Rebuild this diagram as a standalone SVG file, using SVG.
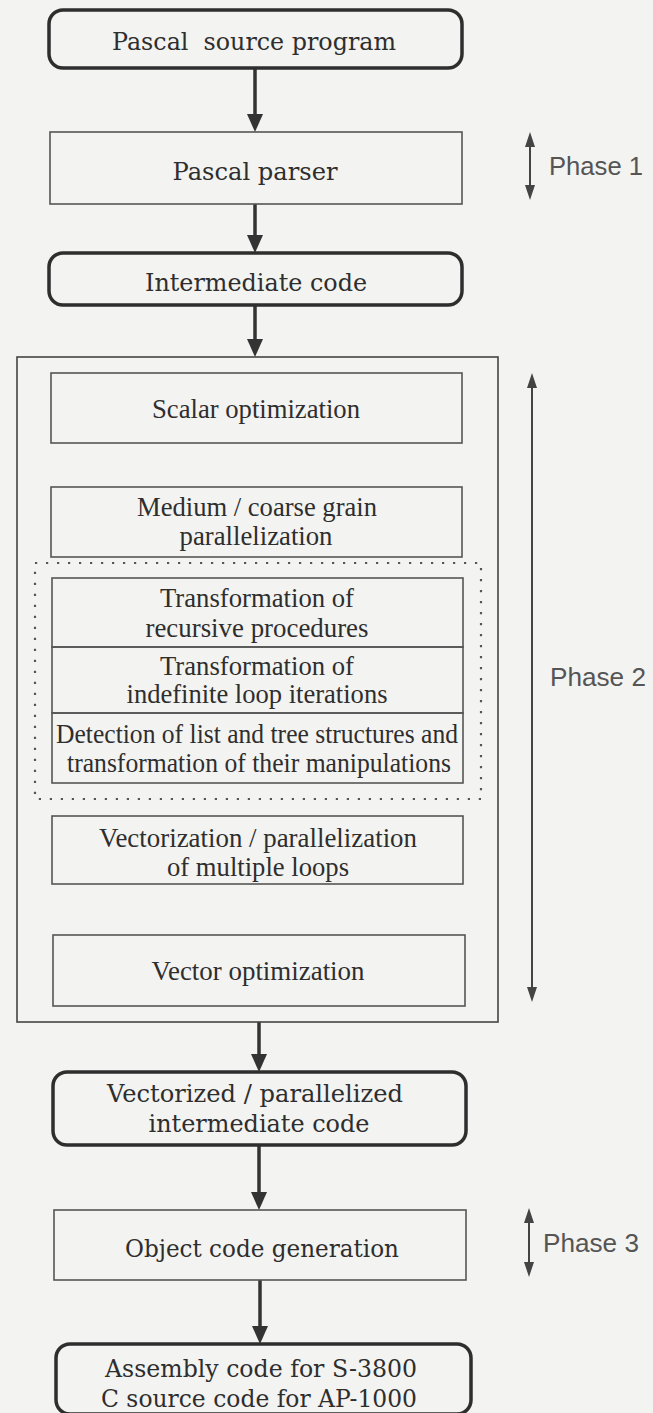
<svg xmlns="http://www.w3.org/2000/svg" width="653" height="1413" viewBox="0 0 653 1413">
  <style>
    .term { fill: none; stroke: #2e2e2e; stroke-width: 3.5; }
    .box { fill: none; stroke: #555; stroke-width: 1.6; }
    .frame { fill: none; stroke: #444; stroke-width: 1.6; }
    .dots { fill: none; stroke: #555; stroke-width: 2.2; stroke-dasharray: 2.2 8.8; }
    .flow { stroke: #333; stroke-width: 3.5; fill: none; }
    .span { stroke: #444; stroke-width: 2; fill: none; }
    .sch { font-family: "DejaVu Serif", "Liberation Serif", serif; font-size: 25px; fill: #2e2e2e; text-anchor: middle; }
    .tms { font-family: "Liberation Serif", "Times New Roman", serif; font-size: 28px; fill: #2e2e2e; text-anchor: middle; }
    .phase { font-family: "Liberation Sans", Arial, sans-serif; font-size: 25px; fill: #555; }
  </style>

  <rect x="0" y="0" width="653" height="1413" fill="#f3f3f1"/>

  <!-- flow connectors: shaft plus filled head -->
  <g id="connectors">
    <line class="flow" x1="255" y1="68" x2="255" y2="114"/>
    <path d="M247,114 L263,114 L255,132 Z" fill="#333"/>
    <line class="flow" x1="255" y1="204" x2="255" y2="235"/>
    <path d="M247,235 L263,235 L255,253 Z" fill="#333"/>
    <line class="flow" x1="255" y1="305" x2="255" y2="339"/>
    <path d="M247,339 L263,339 L255,357 Z" fill="#333"/>
    <line class="flow" x1="259" y1="1022" x2="259" y2="1054"/>
    <path d="M251,1054 L267,1054 L259,1072 Z" fill="#333"/>
    <line class="flow" x1="259" y1="1145" x2="259" y2="1192"/>
    <path d="M251,1192 L267,1192 L259,1210 Z" fill="#333"/>
    <line class="flow" x1="260" y1="1280" x2="260" y2="1326"/>
    <path d="M252,1326 L268,1326 L260,1344 Z" fill="#333"/>
  </g>

  <!-- phase spans: double-headed markers with labels -->
  <g id="phase1">
    <line class="span" x1="530" y1="144" x2="530" y2="188"/>
    <path d="M525,147 L535,147 L530,132 Z" fill="#444"/>
    <path d="M525,185 L535,185 L530,200 Z" fill="#444"/>
    <text class="phase" x="549" y="175" textLength="94" lengthAdjust="spacingAndGlyphs">Phase 1</text>
  </g>
  <g id="phase2">
    <line class="span" x1="532" y1="385" x2="532" y2="990"/>
    <path d="M527,388 L537,388 L532,373 Z" fill="#444"/>
    <path d="M527,987 L537,987 L532,1002 Z" fill="#444"/>
    <text class="phase" x="550" y="686" textLength="96" lengthAdjust="spacingAndGlyphs">Phase 2</text>
  </g>
  <g id="phase3">
    <line class="span" x1="529" y1="1220" x2="529" y2="1265"/>
    <path d="M524,1223 L534,1223 L529,1208 Z" fill="#444"/>
    <path d="M524,1262 L534,1262 L529,1277 Z" fill="#444"/>
    <text class="phase" x="543" y="1252" textLength="96" lengthAdjust="spacingAndGlyphs">Phase 3</text>
  </g>

  <!-- phase 1 -->
  <g id="source">
    <rect class="term" x="49" y="10" width="413" height="58" rx="14"/>
    <text class="sch" x="254" y="50" textLength="284" lengthAdjust="spacingAndGlyphs" xml:space="preserve">Pascal  source program</text>
  </g>
  <g id="parser">
    <rect class="box" x="50" y="132" width="412" height="72"/>
    <text class="sch" x="255" y="180" textLength="165" lengthAdjust="spacingAndGlyphs">Pascal parser</text>
  </g>
  <g id="intermediate">
    <rect class="term" x="49" y="253" width="413" height="52" rx="14"/>
    <text class="sch" x="256" y="291" textLength="222" lengthAdjust="spacingAndGlyphs">Intermediate code</text>
  </g>

  <!-- phase 2 optimizer -->
  <g id="optimizer">
    <rect class="frame" x="17" y="357" width="481" height="665"/>
  </g>
  <g id="scalar">
    <rect class="box" x="51" y="373" width="411" height="70"/>
    <text class="tms" x="256" y="418" textLength="208" lengthAdjust="spacingAndGlyphs">Scalar optimization</text>
  </g>
  <g id="coarse">
    <rect class="box" x="51" y="487" width="411" height="70"/>
    <text class="tms" x="257" y="516" textLength="240" lengthAdjust="spacingAndGlyphs">Medium / coarse grain</text>
    <text class="tms" x="256" y="545" textLength="153" lengthAdjust="spacingAndGlyphs">parallelization</text>
  </g>
  <g id="dynamic">
    <rect class="dots" x="35" y="563" width="446" height="236"/>
  </g>
  <g id="recursive">
    <rect class="box" x="52" y="578" width="411" height="69"/>
    <text class="tms" x="257" y="607" textLength="194" lengthAdjust="spacingAndGlyphs">Transformation of</text>
    <text class="tms" x="257" y="637" textLength="223" lengthAdjust="spacingAndGlyphs">recursive procedures</text>
  </g>
  <g id="indefinite">
    <rect class="box" x="52" y="647" width="411" height="66"/>
    <text class="tms" x="257" y="675" textLength="194" lengthAdjust="spacingAndGlyphs">Transformation of</text>
    <text class="tms" x="257" y="703" textLength="261" lengthAdjust="spacingAndGlyphs">indefinite loop iterations</text>
  </g>
  <g id="structures">
    <rect class="box" x="52" y="713" width="411" height="70"/>
    <text class="tms" x="257" y="743" textLength="402" lengthAdjust="spacingAndGlyphs">Detection of list and tree structures and</text>
    <text class="tms" x="259" y="772" textLength="384" lengthAdjust="spacingAndGlyphs">transformation of their manipulations</text>
  </g>
  <g id="multiloop">
    <rect class="box" x="52" y="816" width="411" height="68"/>
    <text class="tms" x="258" y="847" textLength="318" lengthAdjust="spacingAndGlyphs">Vectorization / parallelization</text>
    <text class="tms" x="258" y="876" textLength="182" lengthAdjust="spacingAndGlyphs">of multiple loops</text>
  </g>
  <g id="vectoropt">
    <rect class="box" x="53" y="935" width="412" height="71"/>
    <text class="tms" x="258" y="980" textLength="213" lengthAdjust="spacingAndGlyphs">Vector optimization</text>
  </g>

  <!-- phase 3 -->
  <g id="vectorized">
    <rect class="term" x="53" y="1072" width="413" height="73" rx="14"/>
    <text class="sch" x="255" y="1102" textLength="296" lengthAdjust="spacingAndGlyphs">Vectorized / parallelized</text>
    <text class="sch" x="259" y="1132" textLength="221" lengthAdjust="spacingAndGlyphs">intermediate code</text>
  </g>
  <g id="codegen">
    <rect class="box" x="54" y="1210" width="412" height="70"/>
    <text class="sch" x="262" y="1257" textLength="274" lengthAdjust="spacingAndGlyphs">Object code generation</text>
  </g>
  <g id="target">
    <rect class="term" x="56" y="1344" width="415" height="70" rx="14"/>
    <text class="sch" x="261" y="1377" textLength="312" lengthAdjust="spacingAndGlyphs">Assembly code for S-3800</text>
    <text class="sch" x="259" y="1407" textLength="316" lengthAdjust="spacingAndGlyphs">C source code for AP-1000</text>
  </g>
</svg>
